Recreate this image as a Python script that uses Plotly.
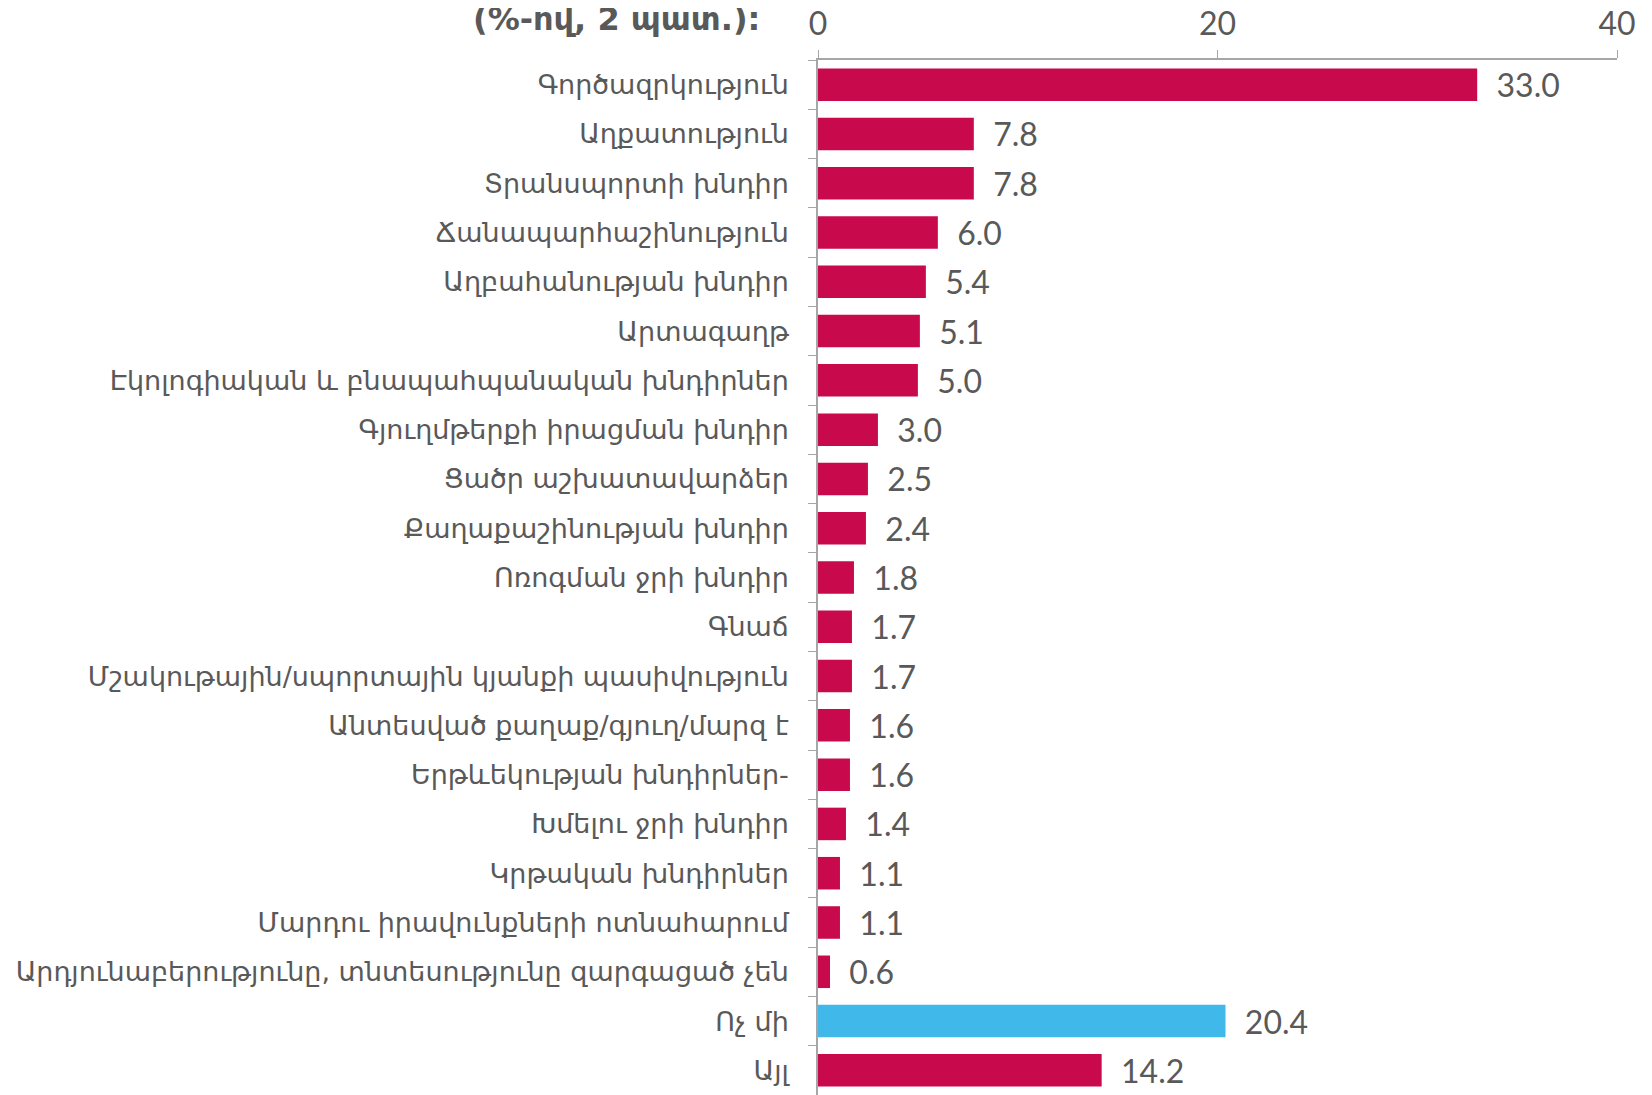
import plotly.graph_objects as go

CRIMSON = "#C8094C"
SKY = "#41B8EA"
GREY_TEXT = "#595959"
AXIS_GREY = "#A6A6A6"
LABEL_FONT = "DejaVu Sans, sans-serif"
NUM_FONT = "Lato, DejaVu Sans, sans-serif"

categories = [
    "Գործազրկություն",
    "Աղքատություն",
    "Տրանսպորտի խնդիր",
    "Ճանապարհաշինություն",
    "Աղբահանության խնդիր",
    "Արտագաղթ",
    "Էկոլոգիական և բնապահպանական խնդիրներ",
    "Գյուղմթերքի իրացման խնդիր",
    "Ցածր աշխատավարձեր",
    "Քաղաքաշինության խնդիր",
    "Ոռոգման ջրի խնդիր",
    "Գնաճ",
    "Մշակութային/սպորտային կյանքի պասիվություն",
    "Անտեսված քաղաք/գյուղ/մարզ է",
    "Երթևեկության խնդիրներ-",
    "Խմելու ջրի խնդիր",
    "Կրթական խնդիրներ",
    "Մարդու իրավունքների ոտնահարում",
    "Արդյունաբերությունը, տնտեսությունը զարգացած չեն",
    "Ոչ մի",
    "Այլ",
]
values = [33.0, 7.8, 7.8, 6.0, 5.4, 5.1, 5.0, 3.0, 2.5, 2.4, 1.8, 1.7, 1.7,
          1.6, 1.6, 1.4, 1.1, 1.1, 0.6, 20.4, 14.2]
highlight = "Ոչ մի"
x_ticks = [0, 20, 40]

colors = [SKY if c == highlight else CRIMSON for c in categories]

fig = go.Figure(go.Bar(
    x=values,
    y=categories,
    orientation="h",
    marker=dict(color=colors, line=dict(width=0)),
    text=["\u00a0\u00a0" + f"{v:.1f}" for v in values],
    textposition="outside",
    constraintext="none",
    textfont=dict(size=32, color=GREY_TEXT, family=NUM_FONT),
    cliponaxis=False,
))

fig.update_xaxes(
    side="top",
    range=[0, 40],
    tickvals=x_ticks,
    ticks="outside",
    ticklen=8,
    tickcolor=AXIS_GREY,
    showline=True,
    linecolor=AXIS_GREY,
    linewidth=1.5,
    showgrid=False,
    zeroline=False,
    automargin=False,
    ticklabelstandoff=2,
    tickfont=dict(size=32, color=GREY_TEXT, family=NUM_FONT),
)
fig.update_yaxes(
    autorange="reversed",
    ticks="outside",
    tickson="boundaries",
    ticklen=8,
    tickcolor=AXIS_GREY,
    showline=True,
    linecolor=AXIS_GREY,
    linewidth=1.5,
    showgrid=False,
    ticklabelstandoff=22,
    tickfont=dict(size=27, color=GREY_TEXT, family=LABEL_FONT),
    automargin=False,
)

fig.add_annotation(
    text="<b>(%-ով, 2 պատ.):</b>",
    xref="paper", yref="paper",
    x=-0.070, y=1.019,
    xanchor="right", yanchor="bottom",
    showarrow=False,
    font=dict(size=32, color=GREY_TEXT, family=LABEL_FONT),
)

fig.update_layout(
    width=1644,
    height=1087,
    plot_bgcolor="white",
    paper_bgcolor="white",
    bargap=0.34,
    showlegend=False,
    margin=dict(l=810, r=35, t=52, b=0),
    font=dict(family=LABEL_FONT, color=GREY_TEXT),
)

fig.write_html("out.html")
